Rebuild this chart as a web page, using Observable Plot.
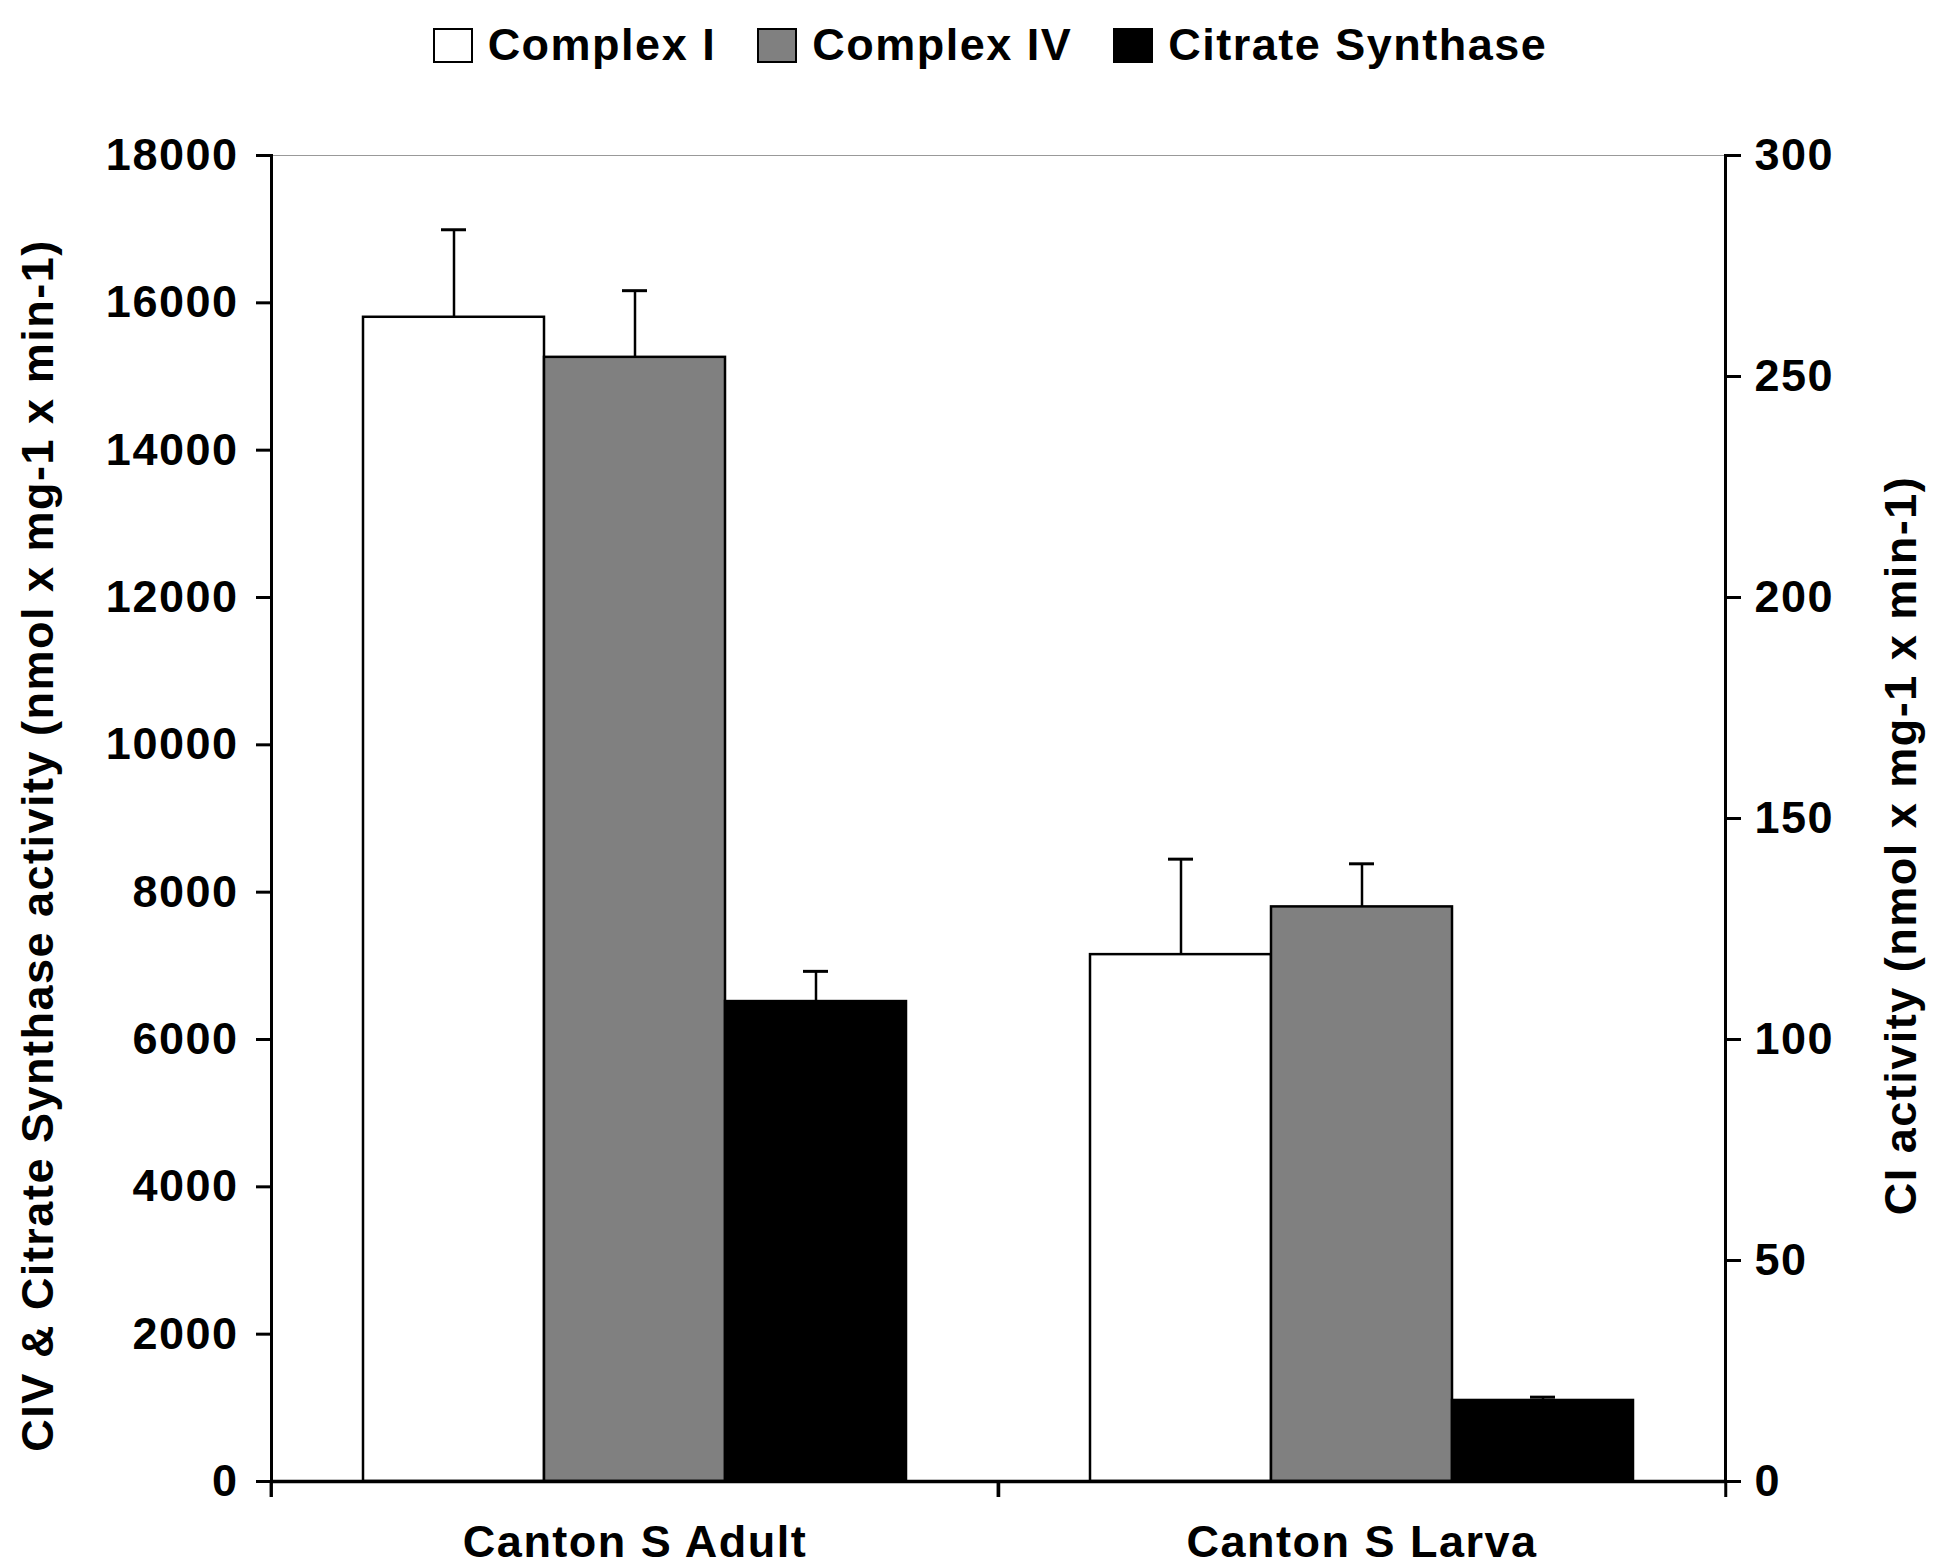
<!DOCTYPE html>
<html>
<head>
<meta charset="utf-8">
<script src="https://cdn.jsdelivr.net/npm/d3@7"></script>
<script src="https://cdn.jsdelivr.net/npm/@observablehq/plot@0.6"></script>
<style>
  body { margin: 0; background: #fff; }
  #legend { height: 90px; display: flex; justify-content: center; align-items: center; padding-left: 42px; box-sizing: border-box; }
  .lg-swatches { font-family: "Liberation Sans", Arial, sans-serif !important; font-size: 45px !important; font-weight: bold; letter-spacing: 1.5px; color: #000; margin: 0 !important; display: flex; align-items: center; }
  .lg-swatch { margin-right: 41px !important; display: inline-flex; align-items: center; }
  .lg-swatch:last-child { margin-right: 0 !important; }
  .lg-swatch > svg { margin-right: 15px !important; overflow: hidden; }
  .lg-swatch > svg rect { stroke: #000; stroke-width: 4px; }
</style>
</head>
<body>
<div id="legend"></div>
<div id="chart"></div>
<script>
// Groups along the category axis and the three enzyme series
const groups = ["Canton S Adult", "Canton S Larva"];
const series = ["Complex I", "Complex IV", "Citrate Synthase"];
const seriesFill = ["#ffffff", "#808080", "#000000"];

// Complex I is read against the right axis (CI activity)
const complexI = [263.4, 119.2];
const complexIErr = [19.8, 21.6];
// Complex IV and citrate synthase are read against the left axis
const complexIV = [15260, 7800];
const complexIVErr = [905, 585];
const citrateSynthase = [6515, 1100];
const citrateSynthaseErr = [410, 45];

// Axis ticks
const leftTicks = [0, 2000, 4000, 6000, 8000, 10000, 12000, 14000, 16000, 18000];
const rightTicks = [0, 50, 100, 150, 200, 250, 300];
const leftMax = 18000;
const rightMax = 300;
const ratio = leftMax / rightMax; // right-axis units -> left-axis units

const leftLabel = "CIV & Citrate Synthase activity (nmol x mg-1 x min-1)";
const rightLabel = "CI activity (nmol x mg-1 x min-1)";

// One row per bar, expressed in left-axis units for the shared y scale
const rows = [];
groups.forEach((g, i) => {
  rows.push({group: g, series: series[0], y: complexI[i] * ratio, yHi: (complexI[i] + complexIErr[i]) * ratio});
  rows.push({group: g, series: series[1], y: complexIV[i], yHi: complexIV[i] + complexIVErr[i]});
  rows.push({group: g, series: series[2], y: citrateSynthase[i], yHi: citrateSynthase[i] + citrateSynthaseErr[i]});
});

const W = 1938, H = 1476;
const mL = 270, mR = 213, mT = 65, mB = 85;
const band = (W - mL - mR) / groups.length;
const axisStroke = 3;

const chart = Plot.plot({
  width: W,
  height: H,
  marginLeft: mL,
  marginRight: mR,
  marginTop: mT,
  marginBottom: mB,
  style: "font-family: 'Liberation Sans', Arial, sans-serif; font-size: 45px; font-weight: bold; letter-spacing: 1.5px; color: #000; background: #fff;",
  fx: {domain: groups, padding: 0, axis: null, label: null},
  x: {domain: series, paddingInner: 0, paddingOuter: 0.5, axis: null},
  y: {domain: [0, leftMax], axis: null},
  color: {domain: series, range: seriesFill},
  marks: [
    Plot.frame({anchor: "top", stroke: "#999", strokeWidth: 1.2}),
    Plot.barY(rows, {fx: "group", x: "series", y: "y", fill: "series", stroke: "#000", strokeWidth: 2.5}),
    Plot.ruleX(rows, {fx: "group", x: "series", y1: "y", y2: "yHi", stroke: "#000", strokeWidth: 2.5}),
    Plot.tickY(rows, {fx: "group", x: "series", y: "yHi", stroke: "#000", strokeWidth: 3, insetLeft: 78, insetRight: 78}),
    Plot.ruleY([0], {stroke: "#000", strokeWidth: 3.5}),
    Plot.frame({anchor: "left", facetAnchor: "left", stroke: "#000", strokeWidth: axisStroke}),
    Plot.frame({anchor: "right", facetAnchor: "right", stroke: "#000", strokeWidth: axisStroke}),
    Plot.axisY(leftTicks, {
      anchor: "left", tickSize: 15, tickPadding: 18, strokeWidth: axisStroke,
      tickFormat: d => String(d), label: null
    }),
    Plot.axisY(rightTicks.map(v => v * ratio), {
      anchor: "right", tickSize: 15, tickPadding: 14, strokeWidth: axisStroke,
      tickFormat: d => String(Math.round(d / ratio)), label: null
    }),
    // axis titles, rotated, sitting slightly below the frame's middle
    Plot.text([leftLabel], {
      text: d => d, frameAnchor: "left", facetAnchor: "left", rotate: -90,
      textAnchor: "middle", lineAnchor: "top", dx: -250, dy: 27
    }),
    Plot.text([rightLabel], {
      text: d => d, frameAnchor: "right", facetAnchor: "right", rotate: -90,
      textAnchor: "middle", lineAnchor: "bottom", dx: 190, dy: 27
    }),
    // category boundary ticks below the baseline
    Plot.axisFx(groups, {anchor: "bottom", tickSize: 16, strokeWidth: axisStroke, tickFormat: () => "", label: null, dx: -band / 2}),
    Plot.axisFx(groups.slice(-1), {anchor: "bottom", tickSize: 16, strokeWidth: axisStroke, tickFormat: () => "", label: null, dx: band / 2}),
    // category labels
    Plot.axisFx({anchor: "bottom", tickSize: 0, tickPadding: 44, label: null})
  ]
});
document.getElementById("chart").append(chart);

const legend = Plot.legend({
  color: {domain: series, range: seriesFill},
  legend: "swatches",
  swatchWidth: 40,
  swatchHeight: 35,
  className: "lg"
});
document.getElementById("legend").append(legend);
</script>
</body>
</html>
